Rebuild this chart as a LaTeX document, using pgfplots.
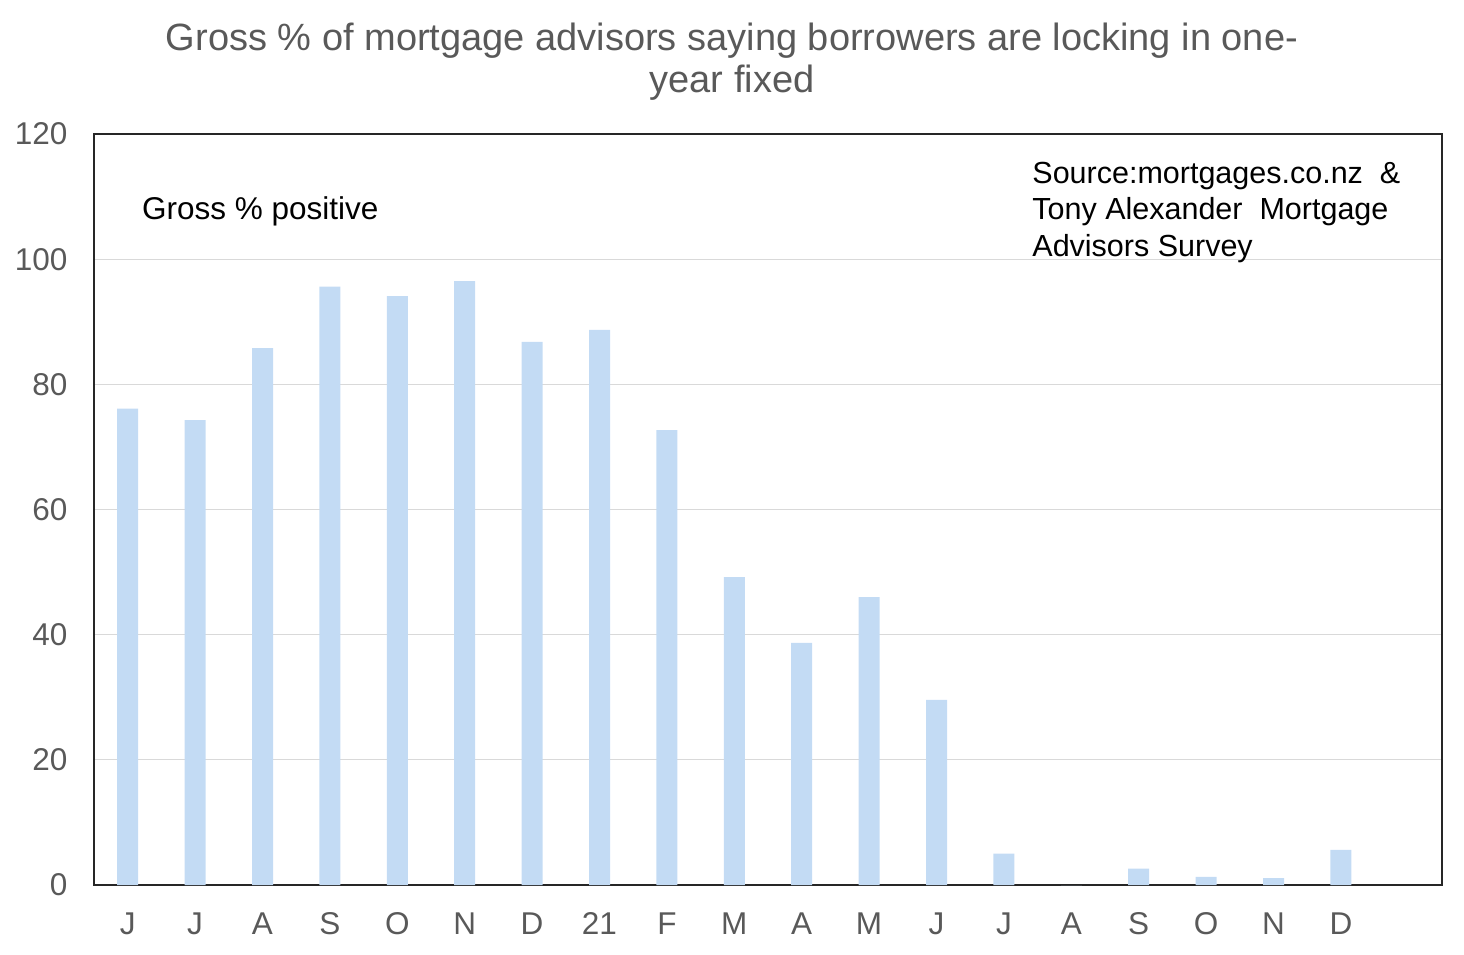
\documentclass[border=0pt]{standalone}
\usepackage{fontspec}
\setmainfont{Liberation Sans}
\usepackage{pgfplots}
\pgfplotsset{compat=1.18}
\definecolor{barblue}{RGB}{195,219,244}
\definecolor{gridgray}{RGB}{217,217,217}
\definecolor{labgray}{RGB}{89,89,89}
\begin{document}
\begin{tikzpicture}
\begin{axis}[
  at={(0,0)}, anchor=south west,
  scale only axis, width=1348pt, height=751pt,
  xmin=-0.5, xmax=19.5, ymin=0, ymax=120,
  ytick={0,20,...,120},
  xtick={0,...,18},
  xticklabels={J,J,A,S,O,N,D,21,F,M,A,M,J,J,A,S,O,N,D},
  ymajorgrids, grid style={gridgray, line width=1pt},
  axis line style={black!85, line width=1.5pt},
  major tick length=0pt,
  tick label style={font=\fontsize{31.5}{36}\selectfont, text=labgray},
  /pgf/number format/assume math mode=true,
  yticklabel style={xshift=-23pt},
  xticklabel style={yshift=-24pt},
  axis on top=false,
]
\addplot[ybar, bar width=21pt, fill=barblue, draw=none] coordinates {
(0,76.1) (1,74.3) (2,85.8) (3,95.6) (4,94.1) (5,96.5) (6,86.8) (7,88.7) (8,72.7)
(9,49.2) (10,38.7) (11,46.0) (12,29.6) (13,5.0) (14,0) (15,2.6) (16,1.3) (17,1.1) (18,5.6)
};
\node[anchor=west, font=\fontsize{31.5}{36}\selectfont, inner sep=0pt] at (axis cs:0.212,107.7) {Gross \% positive};
\node[anchor=west, align=left, font=\fontsize{30.5}{36.5}\selectfont, inner sep=0pt] at (axis cs:13.42,107.5) {Source:mortgages.co.nz\ \ \&\\Tony Alexander\ \ Mortgage\\Advisors\ Survey};
\end{axis}
\node[align=center, font=\fontsize{38}{42}\selectfont, text=labgray, inner sep=0pt] at (638pt,823pt) {Gross \% of mortgage advisors saying borrowers are locking in one-\\year fixed};
\pgfresetboundingbox
\path[use as bounding box] (-94pt,-69pt) rectangle (1370pt,885pt);
\end{tikzpicture}
\end{document}
